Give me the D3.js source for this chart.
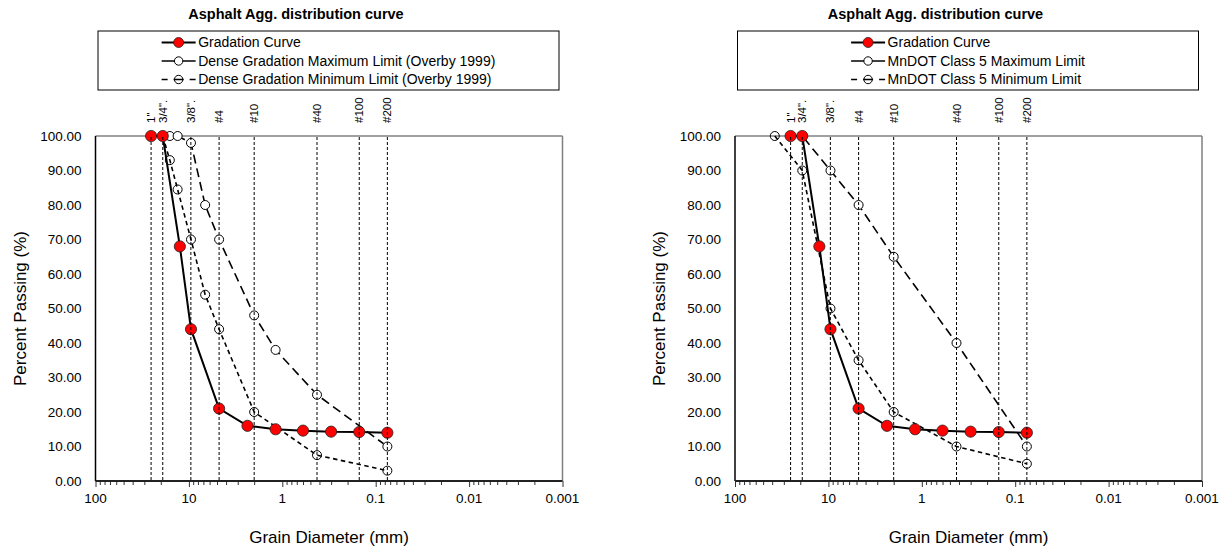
<!DOCTYPE html>
<html><head><meta charset="utf-8">
<script src="https://cdn.jsdelivr.net/npm/d3@7"></script>
<style>
body{margin:0;background:#fff}
svg{display:block}
text{font-family:"Liberation Sans",Arial,Helvetica,sans-serif;fill:#000}
</style>
</head><body>
<svg id="c" width="1228" height="550"></svg>
<script>
// ---- data ----
const chartTitle = "Asphalt Agg. distribution curve";
const xAxisTitle = "Grain Diameter (mm)";
const yAxisTitle = "Percent Passing (%)";
const yTicks = [0, 10, 20, 30, 40, 50, 60, 70, 80, 90, 100];
const xTickLabels = [100, 10, 1, 0.1, 0.01, 0.001];
const sieveLabels = ['1"', '3/4".', '3/8".', '#4', '#10', '#40', '#100', '#200'];
const sieveSizes = [25.4, 19.05, 9.525, 4.75, 2.0, 0.425, 0.15, 0.075];

const gradSizes = [25.4, 19.05, 12.5, 9.5, 4.75, 2.36, 1.18, 0.6, 0.3, 0.15, 0.075];
const gradPass  = [100, 100, 68, 44, 21, 16, 15, 14.6, 14.3, 14.2, 14.0];

const overbyMaxSizes = [19.05, 16, 13.2, 9.5, 6.7, 4.75, 2.0, 1.18, 0.425, 0.075];
const overbyMaxPass  = [100, 100, 100, 98, 80, 70, 48, 38, 25, 10];
const overbyMinSizes = [19.05, 16, 13.2, 9.5, 6.7, 4.75, 2.0, 0.425, 0.075];
const overbyMinPass  = [100, 93, 84.5, 70, 54, 44, 20, 7.5, 3];

const mndotMaxSizes = [25.4, 19.05, 9.5, 4.75, 2.0, 0.425, 0.075];
const mndotMaxPass  = [100, 100, 90, 80, 65, 40, 10];
const mndotMinSizes = [37.5, 19.05, 9.5, 4.75, 2.0, 0.425, 0.075];
const mndotMinPass  = [100, 90, 50, 35, 20, 10, 5];

const leftLegend  = ["Gradation Curve", "Dense Gradation Maximum Limit (Overby 1999)", "Dense Gradation Minimum Limit (Overby 1999)"];
const rightLegend = ["Gradation Curve", "MnDOT Class 5 Maximum Limit", "MnDOT Class 5 Minimum Limit"];

// ---- drawing ----
const svg = d3.select("#c");
const W = 467, H = 345, TOP = 136;

function panel(ox, maxS, maxP, minS, minP, legendLabels) {
  const g = svg.append("g").attr("transform", `translate(${ox},${TOP})`);
  const x = d3.scaleLog().domain([100, 0.001]).range([0, W]);
  const y = d3.scaleLinear().domain([0, 100]).range([H, 0]);

  // title
  g.append("text").attr("x", 200.5).attr("y", -117).attr("text-anchor", "middle")
    .style("font-size", "14.5px").style("font-weight", "bold").text(chartTitle);

  // legend box
  const lb = {x0: 2.5, x1: 463.5, y0: -105, y1: -46};
  g.append("rect").attr("x", lb.x0).attr("y", lb.y0).attr("width", lb.x1 - lb.x0).attr("height", lb.y1 - lb.y0)
    .attr("fill", "#fff").attr("stroke", "#000").attr("stroke-width", 1);
  const rowsY = [-93.5, -75, -56.5];
  const lg = g.append("g");
  const texts = lg.selectAll("text.lt").data(legendLabels).join("text").attr("class", "lt")
    .attr("y", (d, i) => rowsY[i]).attr("dy", "0.35em").style("font-size", "14px").text(d => d);
  let maxW = 0; texts.each(function(){ maxW = Math.max(maxW, this.getComputedTextLength()); });
  const sampleW = 34, gap = 2.5;
  const start = (lb.x0 + lb.x1) / 2 - (sampleW + gap + maxW) / 2;
  texts.attr("x", start + sampleW + gap);
  // sample 1: gradation
  lg.append("line").attr("x1", start).attr("x2", start + sampleW).attr("y1", rowsY[0]).attr("y2", rowsY[0])
    .attr("stroke", "#000").attr("stroke-width", 2);
  lg.append("circle").attr("cx", start + sampleW / 2).attr("cy", rowsY[0]).attr("r", 5)
    .attr("fill", "#ff0000").attr("stroke", "#222").attr("stroke-width", 0.8);
  // sample 2: max
  lg.append("line").attr("x1", start).attr("x2", start + sampleW).attr("y1", rowsY[1]).attr("y2", rowsY[1])
    .attr("stroke", "#000").attr("stroke-width", 1.5);
  lg.append("circle").attr("cx", start + sampleW / 2).attr("cy", rowsY[1]).attr("r", 4.2)
    .attr("fill", "#fff").attr("stroke", "#000").attr("stroke-width", 1);
  // sample 3: min
  lg.append("line").attr("x1", start).attr("x2", start + sampleW).attr("y1", rowsY[2]).attr("y2", rowsY[2])
    .attr("stroke", "#000").attr("stroke-width", 1.5).attr("stroke-dasharray", "6,6,10,6,6");
  lg.append("circle").attr("cx", start + sampleW / 2).attr("cy", rowsY[2]).attr("r", 4.2)
    .attr("fill", "none").attr("stroke", "#000").attr("stroke-width", 1);

  // sieve labels
  g.selectAll("text.sv").data(d3.zip(sieveSizes, sieveLabels)).join("text").attr("class", "sv")
    .attr("transform", d => `translate(${x(d[0])},-13) rotate(-90)`)
    .attr("dy", "0.35em").attr("text-anchor", "start").style("font-size", "11.5px").text(d => d[1]);

  // y tick labels
  g.selectAll("text.yt").data(yTicks).join("text").attr("class", "yt")
    .attr("x", -14).attr("y", d => y(d)).attr("dy", "0.35em").attr("text-anchor", "end")
    .style("font-size", "13.5px").text(d => d3.format(".2f")(d));
  // y title
  g.append("text").attr("transform", `translate(${20 - 95.5},${H / 2}) rotate(-90)`)
    .attr("dy", "0.35em").attr("text-anchor", "middle").style("font-size", "17px").text(yAxisTitle);

  // x axis ticks
  const allTicks = x.ticks();
  const isMajor = v => Math.abs(Math.log10(v) - Math.round(Math.log10(v))) < 1e-9;
  const ax = g.append("g").attr("transform", `translate(0,${H})`)
    .call(d3.axisBottom(x).tickValues(allTicks).tickSize(4).tickFormat(""));
  ax.select(".domain").remove();
  ax.selectAll(".tick line").attr("stroke", "#333").attr("stroke-width", 1)
    .attr("y2", d => isMajor(d) ? 6 : 4);
  g.selectAll("text.xt").data(xTickLabels).join("text").attr("class", "xt")
    .attr("x", d => x(d)).attr("y", 366.5).attr("text-anchor", "middle")
    .style("font-size", "13.5px").text(d => d3.format("~g")(d));
  g.append("text").attr("x", W / 2).attr("y", 407).attr("text-anchor", "middle")
    .style("font-size", "17px").text(xAxisTitle);

  // plot frame
  g.append("line").attr("x1", 0).attr("x2", W).attr("y1", 0).attr("y2", 0).attr("stroke", "#808080").attr("stroke-width", 1.5);
  g.append("line").attr("x1", W).attr("x2", W).attr("y1", 0).attr("y2", H).attr("stroke", "#808080").attr("stroke-width", 1.5);

  const line = d3.line().x(d => x(d[0])).y(d => y(d[1]));

  // max limit
  const mx = d3.zip(maxS, maxP);
  g.append("path").attr("d", line(mx)).attr("fill", "none").attr("stroke", "#000")
    .attr("stroke-width", 1.6).attr("stroke-dasharray", "9,5");
  g.selectAll("circle.mx").data(mx).join("circle").attr("class", "mx")
    .attr("cx", d => x(d[0])).attr("cy", d => y(d[1])).attr("r", 4.5)
    .attr("fill", "#fff").attr("stroke", "#000").attr("stroke-width", 1);

  // min limit
  const mn = d3.zip(minS, minP);
  g.append("path").attr("d", line(mn)).attr("fill", "none").attr("stroke", "#000")
    .attr("stroke-width", 1.6).attr("stroke-dasharray", "4.5,3.5");
  g.selectAll("circle.mn").data(mn).join("circle").attr("class", "mn")
    .attr("cx", d => x(d[0])).attr("cy", d => y(d[1])).attr("r", 4.5)
    .attr("fill", "none").attr("stroke", "#000").attr("stroke-width", 1);

  // gradation curve
  const grad = d3.zip(gradSizes, gradPass);
  g.append("path").attr("d", line(grad)).attr("fill", "none").attr("stroke", "#000").attr("stroke-width", 2);
  g.selectAll("circle.gr").data(grad).join("circle").attr("class", "gr")
    .attr("cx", d => x(d[0])).attr("cy", d => y(d[1])).attr("r", 5.6)
    .attr("fill", "#ff0000").attr("stroke", "#222").attr("stroke-width", 0.8);

  // sieve lines
  g.selectAll("line.sl").data(sieveSizes).join("line").attr("class", "sl")
    .attr("x1", d => x(d)).attr("x2", d => x(d)).attr("y1", 1).attr("y2", H)
    .attr("stroke", "#000").attr("stroke-width", 1).attr("stroke-dasharray", "3,2");

  // left/bottom axes
  g.append("line").attr("x1", 0).attr("x2", 0).attr("y1", 0).attr("y2", H).attr("stroke", "#000").attr("stroke-width", 1.5);
  g.append("line").attr("x1", 0).attr("x2", W).attr("y1", H).attr("y2", H).attr("stroke", "#222").attr("stroke-width", 1.8);
}

panel(95.5, overbyMaxSizes, overbyMaxPass, overbyMinSizes, overbyMinPass, leftLegend);
panel(735, mndotMaxSizes, mndotMaxPass, mndotMinSizes, mndotMinPass, rightLegend);
</script>
</body></html>
